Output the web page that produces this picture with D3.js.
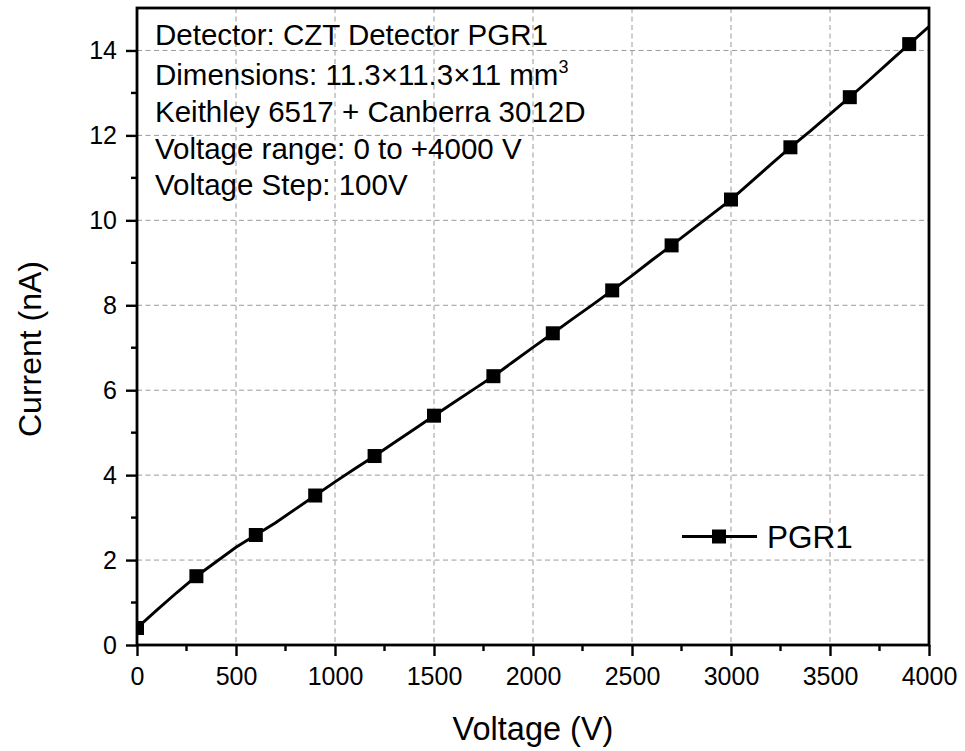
<!DOCTYPE html>
<html>
<head>
<meta charset="utf-8">
<script src="https://cdn.jsdelivr.net/npm/d3@7"></script>
<style>
  body { margin: 0; background: #fff; }
  text { font-family: Arial, "Liberation Sans", sans-serif; fill: #000; }
</style>
</head>
<body>
<div id="chart"></div>
<script>
var width = 965;
var height = 751;

// measured current vs bias voltage, 100 V steps
var voltage = d3.range(0, 4001, 100);
var current = [0.40, 0.82, 1.23, 1.62, 1.96, 2.30, 2.59, 2.88, 3.20, 3.52,
               3.84, 4.15, 4.45, 4.77, 5.08, 5.40, 5.71, 6.02, 6.33, 6.67,
               7.01, 7.34, 7.68, 8.01, 8.35, 8.70, 9.06, 9.41, 9.77, 10.13,
               10.49, 10.90, 11.31, 11.72, 12.10, 12.50, 12.90, 13.31, 13.73, 14.15,
               14.56];
var xTicks = [0, 500, 1000, 1500, 2000, 2500, 3000, 3500, 4000];
var yTicks = [0, 2, 4, 6, 8, 10, 12, 14];
var infoLines = ["Detector: CZT Detector PGR1",
                 "Dimensions: 11.3\u00d711.3\u00d711 mm",
                 "Keithley 6517 + Canberra 3012D",
                 "Voltage range: 0 to +4000 V",
                 "Voltage Step: 100V"];
var seriesName = "PGR1";

var data = voltage.map(function(v, i) { return {v: v, c: current[i]}; });

// plot box
var pLeft = 137, pRight = 929, pTop = 8, pBottom = 645;

var x = d3.scaleLinear().domain([0, 4000]).range([pLeft, pRight]);
var y = d3.scaleLinear().domain([0, 15]).range([pBottom, pTop]);

var svg = d3.select("#chart")
  .append("svg")
    .attr("width", width)
    .attr("height", height)
    .style("background-color", "#fff");

svg.append("clipPath").attr("id", "plotclip")
  .append("rect")
    .attr("x", pLeft).attr("y", pTop)
    .attr("width", pRight - pLeft).attr("height", pBottom - pTop);

// grid
var grid = svg.append("g")
  .attr("stroke", "#9a9a9a")
  .attr("stroke-width", 1)
  .attr("stroke-dasharray", "5,3.5");
grid.selectAll(".gx")
  .data(xTicks.slice(1, -1))
  .join("line")
    .attr("class", "gx")
    .attr("x1", d => x(d)).attr("x2", d => x(d))
    .attr("y1", pTop).attr("y2", pBottom);
grid.selectAll(".gy")
  .data(yTicks.slice(1))
  .join("line")
    .attr("class", "gy")
    .attr("x1", pLeft).attr("x2", pRight)
    .attr("y1", d => y(d)).attr("y2", d => y(d));

// curve
var line = d3.line().x(d => x(d.v)).y(d => y(d.c));
svg.append("path")
  .datum(data)
  .attr("d", line)
  .attr("fill", "none")
  .attr("stroke", "#000")
  .attr("stroke-width", 2.9)
  .attr("clip-path", "url(#plotclip)");

// markers every 300 V
var ms = 14;
svg.append("g")
  .attr("clip-path", "url(#plotclip)")
  .selectAll("rect")
  .data(data.filter((d, i) => i % 3 === 0))
  .join("rect")
    .attr("x", d => x(d.v) - ms / 2)
    .attr("y", d => y(d.c) - ms / 2)
    .attr("width", ms).attr("height", ms)
    .attr("fill", "#000");

// axes
var xAxis = d3.axisBottom(x).tickValues(xTicks).tickFormat(d3.format("d")).tickSize(11).tickPadding(9);
var yAxis = d3.axisLeft(y).tickValues(yTicks).tickFormat(d3.format("d")).tickSize(11).tickPadding(9);

var gx = svg.append("g").attr("transform", "translate(0," + pBottom + ")").call(xAxis);
var gy = svg.append("g").attr("transform", "translate(" + pLeft + ",0)").call(yAxis);

[gx, gy].forEach(function(g) {
  g.attr("font-size", null).attr("font-family", null);
  g.select(".domain").remove();
  g.selectAll(".tick line").attr("stroke", "#000").attr("stroke-width", 2.4);
  g.selectAll(".tick text")
    .style("font-size", "25px")
    .attr("fill", "#000");
});
gx.selectAll(".tick text").attr("dy", "0.78em");

// minor ticks
svg.append("g").selectAll("line")
  .data(d3.range(250, 4000, 500))
  .join("line")
    .attr("x1", d => x(d)).attr("x2", d => x(d))
    .attr("y1", pBottom).attr("y2", pBottom + 6)
    .attr("stroke", "#000").attr("stroke-width", 2.4);
svg.append("g").selectAll("line")
  .data(d3.range(1, 15, 2))
  .join("line")
    .attr("x1", pLeft - 6).attr("x2", pLeft)
    .attr("y1", d => y(d)).attr("y2", d => y(d))
    .attr("stroke", "#000").attr("stroke-width", 2.4);

// frame
svg.append("rect")
  .attr("x", pLeft).attr("y", pTop)
  .attr("width", pRight - pLeft).attr("height", pBottom - pTop)
  .attr("fill", "none")
  .attr("stroke", "#000")
  .attr("stroke-width", 2.8);

// axis titles
svg.append("text")
  .attr("x", (pLeft + pRight) / 2)
  .attr("y", 740)
  .attr("text-anchor", "middle")
  .style("font-size", "32.5px")
  .text("Voltage (V)");

svg.append("text")
  .attr("transform", "translate(41,349) rotate(-90)")
  .attr("text-anchor", "middle")
  .style("font-size", "32px")
  .text("Current (nA)");

// info block
var baselines = [45, 85, 122, 158.5, 195];
var info = svg.append("g");
infoLines.forEach(function(s, i) {
  var t = info.append("text")
    .attr("x", 155)
    .attr("y", baselines[i])
    .style("font-size", "29.5px")
    .text(s);
  if (i === 1) {
    t.append("tspan")
      .attr("dy", -12)
      .style("font-size", "18px")
      .text("3");
  }
});

// legend
var ly = 536.5;
var lg = svg.append("g");
lg.append("line")
  .attr("x1", 682).attr("x2", 757)
  .attr("y1", ly).attr("y2", ly)
  .attr("stroke", "#000").attr("stroke-width", 2.9);
lg.append("rect")
  .attr("x", 719 - ms / 2).attr("y", ly - ms / 2)
  .attr("width", ms).attr("height", ms)
  .attr("fill", "#000");
lg.append("text")
  .attr("x", 767)
  .attr("y", 548)
  .style("font-size", "31.5px")
  .text(seriesName);
</script>
</body>
</html>
